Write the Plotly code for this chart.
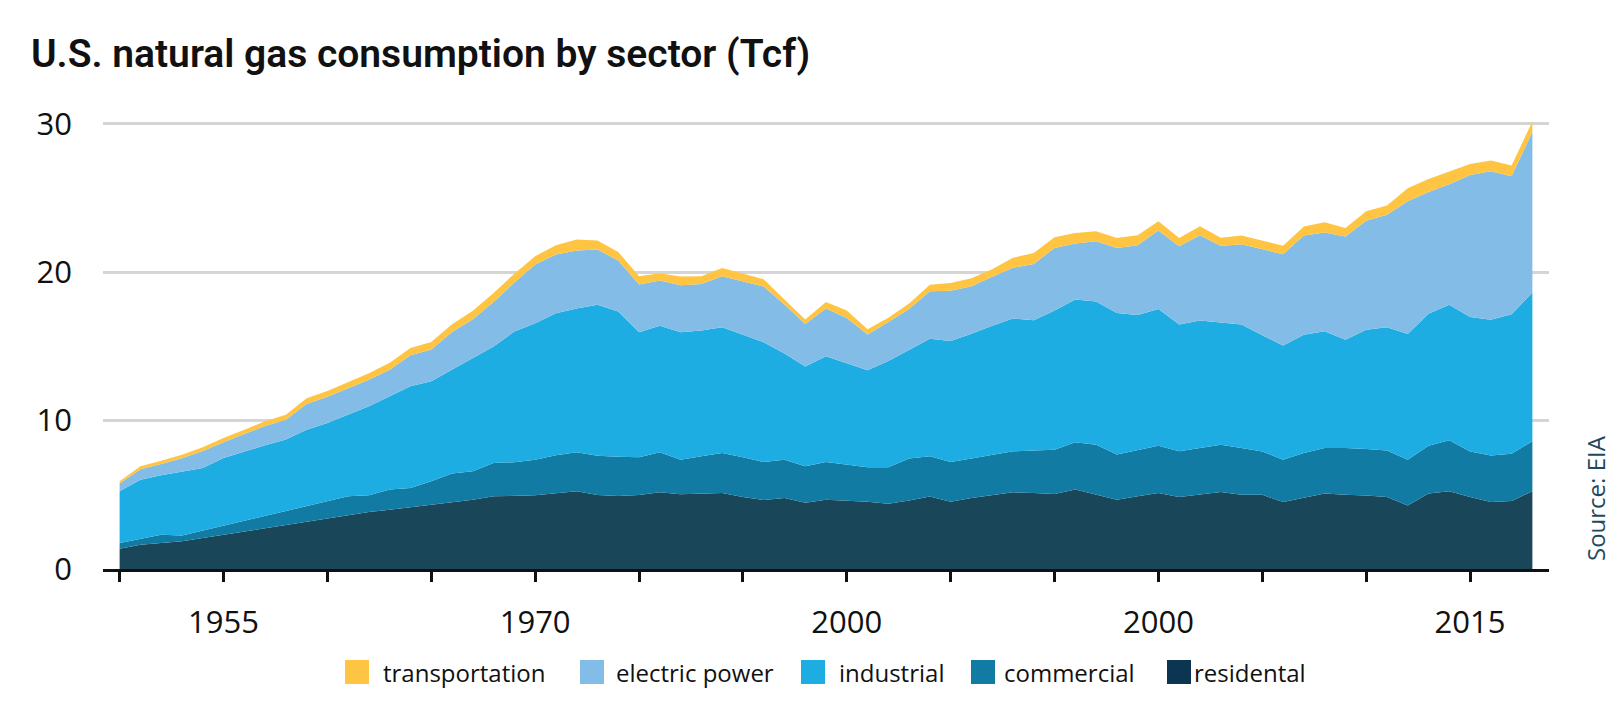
import plotly.graph_objects as go

years = list(range(1950, 2019))

residential = [1.37, 1.64, 1.75, 1.87, 2.09, 2.31, 2.54, 2.76, 2.99, 3.21, 3.44, 3.66, 3.84, 4.00, 4.16, 4.34, 4.52, 4.67, 4.90,
               4.95, 4.97, 5.10, 5.24, 4.99, 4.92, 4.99, 5.17, 5.03, 5.08, 5.12, 4.85, 4.65, 4.79, 4.47, 4.67, 4.61, 4.54, 4.40, 4.61, 4.88, 4.54, 4.79, 5.00,
               5.17, 5.12, 5.06, 5.35, 5.01, 4.67, 4.90, 5.12, 4.85, 5.01,
               5.19, 5.01, 5.01, 4.51, 4.81, 5.08, 5.01, 4.96, 4.85, 4.28, 5.08, 5.24, 4.85, 4.51, 4.58, 5.24]

commercial = [0.38, 0.40, 0.56, 0.38, 0.49, 0.57, 0.67, 0.79, 0.90, 1.01, 1.12, 1.24, 1.13, 1.35, 1.30, 1.57, 1.91, 1.91, 2.25,
              2.25, 2.40, 2.56, 2.63, 2.65, 2.65, 2.54, 2.70, 2.34, 2.52, 2.70, 2.68, 2.56, 2.58, 2.45, 2.54, 2.42, 2.31, 2.45, 2.83, 2.72, 2.67, 2.65, 2.70,
              2.76, 2.86, 2.98, 3.19, 3.37, 3.04, 3.10, 3.19, 3.08, 3.15,
              3.19, 3.14, 2.91, 2.85, 3.00, 3.07, 3.14, 3.12, 3.14, 3.08, 3.22, 3.43, 3.07, 3.14, 3.18, 3.37]

industrial = [3.49, 3.98, 4.00, 4.29, 4.22, 4.60, 4.72, 4.79, 4.83, 5.17, 5.28, 5.50, 6.00, 6.29, 6.85, 6.74, 7.01, 7.64, 7.85,
              8.80, 9.19, 9.58, 9.68, 10.16, 9.78, 8.43, 8.53, 8.59, 8.47, 8.47, 8.27, 8.07, 7.15, 6.72, 7.13, 6.86, 6.54, 7.17, 7.32, 7.91, 8.16, 8.41, 8.70,
              8.95, 8.78, 9.38, 9.62, 9.64, 9.55, 9.12, 9.22, 8.54, 8.58,
              8.21, 8.32, 7.83, 7.71, 7.98, 7.87, 7.30, 8.05, 8.31, 8.48, 8.90, 9.13, 9.06, 9.15, 9.40, 10.03]

electric_power = [0.52, 0.70, 0.77, 0.93, 1.15, 1.07, 1.16, 1.29, 1.33, 1.73, 1.76, 1.78, 1.78, 1.79, 2.09, 2.15, 2.53, 2.61, 3.00,
                  3.30, 3.96, 3.95, 3.91, 3.73, 3.44, 3.21, 3.04, 3.16, 3.14, 3.44, 3.59, 3.75, 3.30, 2.87, 3.21, 3.03, 2.42, 2.62, 2.77, 3.21, 3.39, 3.21, 3.30,
                  3.42, 3.80, 4.22, 3.77, 4.07, 4.38, 4.70, 5.28, 5.28, 5.75,
                  5.17, 5.41, 5.78, 6.14, 6.68, 6.65, 6.95, 7.34, 7.58, 8.95, 8.20, 8.13, 9.57, 10.00, 9.30, 10.83]

transportation = [0.15, 0.20, 0.22, 0.23, 0.25, 0.28, 0.30, 0.33, 0.35, 0.38, 0.40, 0.42, 0.45, 0.47, 0.50, 0.50, 0.53, 0.57, 0.60,
                  0.60, 0.56, 0.63, 0.74, 0.60, 0.58, 0.56, 0.49, 0.59, 0.52, 0.56, 0.52, 0.50, 0.34, 0.30, 0.45, 0.50, 0.35, 0.30, 0.36, 0.43, 0.52, 0.54, 0.50,
                  0.67, 0.74, 0.72, 0.72, 0.67, 0.67, 0.67, 0.63, 0.56, 0.61,
                  0.57, 0.59, 0.60, 0.57, 0.61, 0.69, 0.58, 0.64, 0.62, 0.87, 0.88, 0.85, 0.75, 0.73, 0.73, 0.68]

series_names = ["residental", "commercial", "industrial", "electric power", "transportation"]
series_values = [residential, commercial, industrial, electric_power, transportation]
area_colors = ["#1A4659", "#127BA3", "#1EADE3", "#83BDE7", "#FFC442"]
legend_colors = ["#0C3551", "#127BA3", "#1EADE3", "#83BDE7", "#FFC442"]

x_tick_vals = list(range(1950, 2016, 5))
x_tick_text = ["", "1955", "", "", "1970", "", "", "2000", "", "", "2000", "", "", "2015"]
y_tick_vals = [0, 10, 20, 30]

title_text = "U.S. natural gas consumption by sector (Tcf)"
source_text = "Source: EIA"

# ---- layout geometry (pixels) ----
W, H = 1614, 714
L, R, T, B = 95, 73, 101, 153
PW, PH = W - L - R, H - T - B


def px_x(px):
    return (px - L) / PW


def px_y(py):
    return (H - B - py) / PH


fig = go.Figure()
for name, vals, col in zip(series_names, series_values, area_colors):
    fig.add_trace(go.Scatter(
        x=years, y=vals, name=name, mode="lines", stackgroup="one",
        line=dict(width=0, color=col), fillcolor=col, showlegend=False,
    ))

# manual legend (order as in the reference)
legend_order = [4, 3, 2, 1, 0]
legend_square_left = [337, 572, 793, 963, 1159]
legend_text_left = [373, 606, 829, 994, 1184]
legend_cy = 664
sq = 24
shapes = []
annotations = []
for k, idx in enumerate(legend_order):
    x0 = legend_square_left[k]
    shapes.append(dict(type="rect", xref="paper", yref="paper",
                       x0=px_x(x0), x1=px_x(x0 + sq),
                       y0=px_y(legend_cy + sq / 2), y1=px_y(legend_cy - sq / 2),
                       fillcolor=legend_colors[idx], line=dict(width=0)))
    annotations.append(dict(text=series_names[idx], xref="paper", yref="paper",
                            x=px_x(legend_text_left[k]), y=px_y(legend_cy),
                            xanchor="left", yanchor="middle", showarrow=False,
                            font=dict(family="Open Sans", size=24, color="#111111")))

annotations.append(dict(text=source_text, xref="paper", yref="paper",
                        x=px_x(1587), y=px_y(490), xanchor="center", yanchor="middle",
                        textangle=-90, showarrow=False,
                        font=dict(family="Open Sans", size=24, color="#1D4A5E")))

fig.update_layout(
    width=W, height=H,
    margin=dict(l=L, r=R, t=T, b=B, pad=0),
    paper_bgcolor="white", plot_bgcolor="white",
    font=dict(family="Open Sans", color="#111111"),
    title=dict(text=title_text, x=23 / W, xanchor="left", xref="container",
               y=1 - 45 / H, yanchor="middle", yref="container",
               font=dict(family="Roboto", size=39, weight=600, color="#111111")),
    showlegend=False,
    shapes=shapes,
    annotations=annotations,
    hovermode=False,
)

fig.update_xaxes(
    range=[1949.2, 2018.8], tickmode="array", tickvals=x_tick_vals, ticktext=x_tick_text,
    showgrid=False, zeroline=False, showline=True, linecolor="#111111", linewidth=3,
    ticks="outside", ticklen=10, tickwidth=3, tickcolor="#111111",
    tickfont=dict(family="Open Sans", size=31, color="#111111"), ticklabelstandoff=14,
)
fig.update_yaxes(
    range=[0, 31], tickmode="array", tickvals=y_tick_vals,
    showgrid=True, gridcolor="#D5D5D5", gridwidth=3, zeroline=False, showline=False,
    ticks="", tickfont=dict(family="Open Sans", size=31, color="#111111"), ticklabelstandoff=30,
)

fig.write_html("out.html")
